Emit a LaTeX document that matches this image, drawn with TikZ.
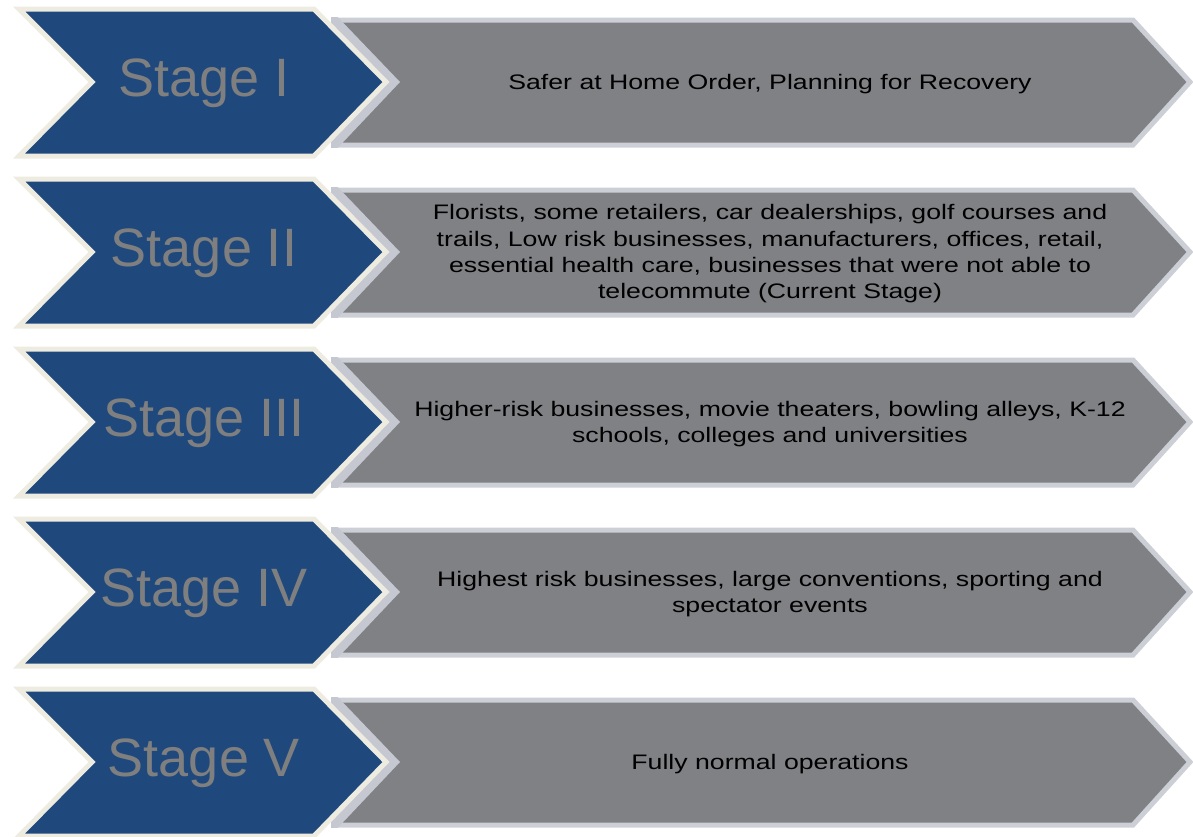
\documentclass[tikz,border=0pt]{standalone}
\usepackage{fontspec}
\setmainfont{Liberation Sans}
\newfontfamily\descfont[FakeStretch=1.27]{Liberation Sans}
\definecolor{stageblue}{HTML}{1F497D}
\definecolor{cream}{HTML}{EEECE1}
\definecolor{barfill}{HTML}{808185}
\definecolor{barline}{HTML}{CDCFD6}
\definecolor{glow}{HTML}{C6C8D1}
\definecolor{stagetext}{HTML}{7F7F7F}
\tikzset{
  stagelabel/.style={text=stagetext, font=\fontsize{54}{60}\selectfont, inner sep=0pt},
  desclabel/.style={text=black, font=\descfont\fontsize{21}{26.3}\selectfont, align=center, inner sep=0pt},
  chevronshape/.style={fill=stageblue, draw=cream, line width=5pt, line join=miter},
  barshape/.style={fill=barfill, draw=barline, line width=5pt, line join=miter},
}
\newcommand{\stagerow}[4]{%
  % #1 = centre y, #2 = name, #3 = stage label, #4 = description
  \path[barshape] (340,#1-62) -- (1133,#1-62) -- (1190,#1) -- (1133,#1+63) -- (340,#1+63) -- cycle;
  \begin{scope}
    \clip (331,#1-64.5) rectangle (430,#1+65.5);
    \fill[glow] (330,#1-73) -- (400,#1) -- (330,#1+74) -- (300,#1+74) -- (300,#1-73) -- cycle;
  \end{scope}
  \path[chevronshape] (19,#1-73) -- (314,#1-73) -- (386,#1) -- (314,#1+74) -- (19,#1+74) -- (92,#1) -- cycle;
  \node[stagelabel] (s#2) at (204,#1+1) {#3};
  \node[desclabel] (d#2) at (770,#1+2) {#4};
}
\begin{document}
\begin{tikzpicture}[x=1pt,y=-1pt]
\useasboundingbox (0,0) rectangle (1193,836);
\stagerow{82}{1}{Stage I}{Safer at Home Order, Planning for Recovery}
\stagerow{252}{2}{Stage II}{Florists, some retailers, car dealerships, golf courses and\\trails, Low risk businesses, manufacturers, offices, retail,\\essential health care, businesses that were not able to\\telecommute (Current Stage)}
\stagerow{422}{3}{Stage III}{Higher-risk businesses, movie theaters, bowling alleys, K-12\\schools, colleges and universities}
\stagerow{592}{4}{Stage IV}{Highest risk businesses, large conventions, sporting and\\spectator events}
\stagerow{762}{5}{Stage V}{Fully normal operations}
\end{tikzpicture}
\end{document}
